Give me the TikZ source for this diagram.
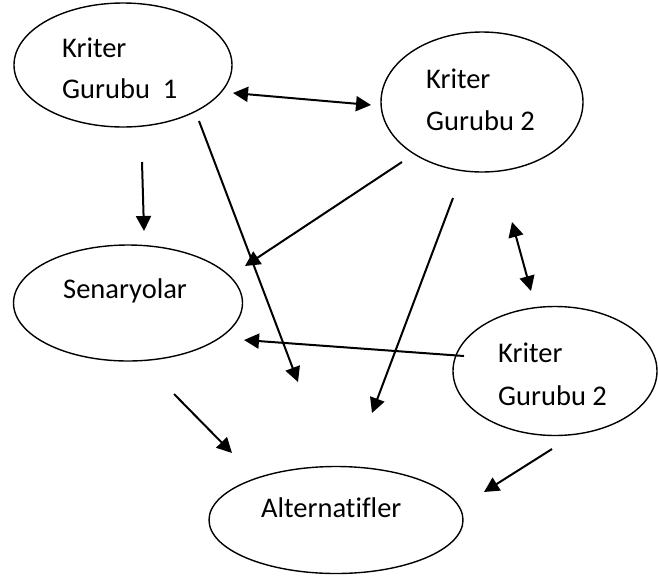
\documentclass[tikz,border=0pt]{standalone}
\usepackage{fontspec}
\setmainfont[Ligatures=NoCommon]{Carlito}
\usetikzlibrary{shapes.geometric,arrows.meta}
\begin{document}
\begin{tikzpicture}[x=1pt,y=-1pt,
  oval/.style={draw,ellipse,line width=1.4pt,inner sep=0pt},
  lbl/.style={anchor=base west,inner sep=0pt,font=\fontsize{28.5}{34}\selectfont},
  arr/.style={line width=2pt,-{Triangle[length=15pt,width=15pt]}},
  darr/.style={line width=2pt,{Triangle[length=15pt,width=15pt]}-{Triangle[length=15pt,width=15pt]}}]
\useasboundingbox (0,0) rectangle (658,579);
% ellipses
\node[oval,minimum width=218pt,minimum height=124pt] (k1) at (123,65) {};
\node[oval,minimum width=202pt,minimum height=140pt] (k2) at (482,102) {};
\node[oval,minimum width=229pt,minimum height=116pt] (sen) at (128,303) {};
\node[oval,minimum width=204pt,minimum height=129pt] (k3) at (555,371) {};
\node[oval,minimum width=254pt,minimum height=107pt] (alt) at (336,520) {};
% labels
\node[lbl] (k1a) at (62,57) {Kriter};
\node[lbl] (k1b) at (62,98) {Gurubu\ \ 1};
\node[lbl] (k2a) at (426,88) {Kriter};
\node[lbl] (k2b) at (426,130) {Gurubu 2};
\node[lbl] (sena) at (63,298) {Senaryolar};
\node[lbl] (k3a) at (498,362) {Kriter};
\node[lbl] (k3b) at (498,405) {Gurubu 2};
\node[lbl] (alta) at (261,517) {Alternatifler};
% connector end points
\coordinate (a1s) at (233,93);  \coordinate (a1e) at (371,105);
\coordinate (a2s) at (142,162); \coordinate (a2e) at (144,231);
\coordinate (a3s) at (199,121); \coordinate (a3e) at (298,382);
\coordinate (a4s) at (402,162); \coordinate (a4e) at (245,266);
\coordinate (a5s) at (453,198); \coordinate (a5e) at (372,413);
\coordinate (a6s) at (512,222); \coordinate (a6e) at (531,291);
\coordinate (a7s) at (464,356); \coordinate (a7e) at (244,340);
\coordinate (a8s) at (174,394); \coordinate (a8e) at (232,453);
\coordinate (a9s) at (552,449); \coordinate (a9e) at (484,492);
% connectors
\draw[darr] (a1s) -- (a1e);
\draw[arr] (a2s) -- (a2e);
\draw[arr] (a3s) -- (a3e);
\draw[arr] (a4s) -- (a4e);
\draw[arr] (a5s) -- (a5e);
\draw[darr] (a6s) -- (a6e);
\draw[arr] (a7s) -- (a7e);
\draw[arr] (a8s) -- (a8e);
\draw[arr] (a9s) -- (a9e);
\end{tikzpicture}
\end{document}
